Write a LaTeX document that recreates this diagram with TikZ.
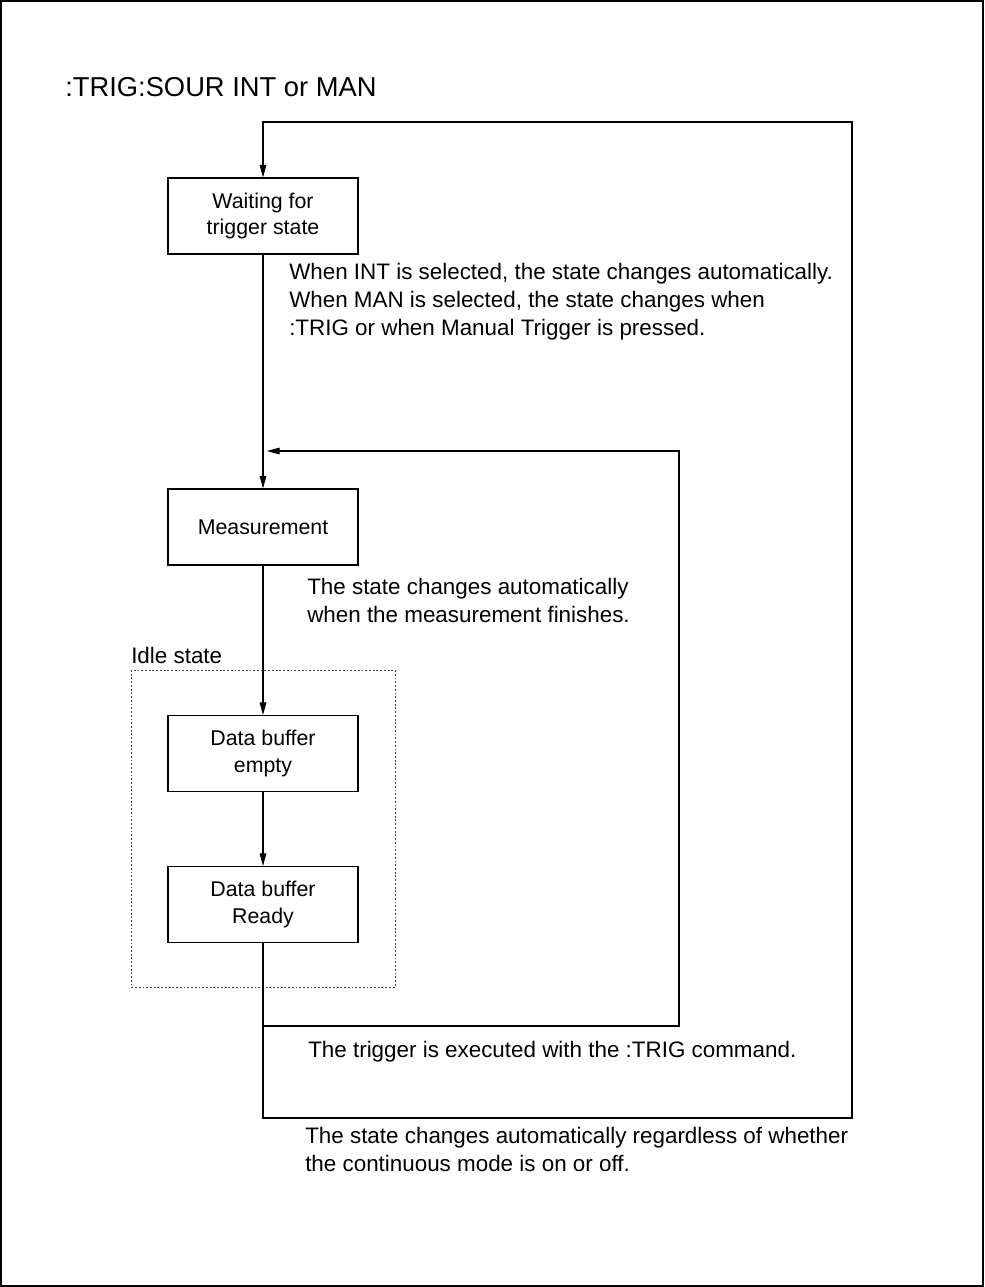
\documentclass[tikz,border=0pt]{standalone}
\usepackage{fontspec}
\setmainfont{Liberation Sans}
\usetikzlibrary{arrows.meta,positioning}

\begin{document}
\begin{tikzpicture}[x=0.75pt,y=-0.75pt,
  state/.style={draw, line width=0.8pt, minimum width=142.5pt, minimum height=57pt,
    inner sep=0pt, align=center, font=\fontsize{16}{20}\selectfont},
  note/.style={anchor=base west, inner sep=0pt, align=left, font=\fontsize{16.8}{21}\selectfont},
  flow/.style={line width=0.8pt, -{Triangle[length=9.5pt,width=5pt]}},
  link/.style={line width=0.8pt},
  idle/.style={draw=black!75, line width=0.6pt, dash pattern=on 1.4pt off 1.4pt}]
\useasboundingbox (0,0) rectangle (984,1287);
% Frame
\draw[line width=1.6pt] (1,1) rectangle (983,1286);
\node[note, font=\fontsize{20.5}{24}\selectfont] (title) at (65,97) {:TRIG:SOUR INT or MAN};
% States
\node[state] (wait) at (263,216) {Waiting for\\trigger state};
\node[state] (meas) at (263,527) {Measurement};
\node[state] (empty) at (263,753.5) {Data buffer\\empty};
\node[state] (ready) at (263,904.5) {Data buffer\\Ready};
% Idle group
\draw[idle] (131,670) rectangle (395,987);
\node[note] (idlelbl) at (131,663) {Idle state};
% Notes (base = last line)
\node[note] (n1) at (289,335) {When INT is selected, the state changes automatically.\\When MAN is selected, the state changes when\\:TRIG or when Manual Trigger is pressed.};
\node[note] (n2) at (307,622) {The state changes automatically\\when the measurement finishes.};
\node[note] (n3) at (308,1057) {The trigger is executed with the :TRIG command.};
\node[note] (n4) at (305,1171) {The state changes automatically regardless of whether\\the continuous mode is on or off.};
% Loop corners
\coordinate (join) at (263,451);
\coordinate (in1) at (679,1026);
\coordinate (in2) at (679,451);
\coordinate (out1) at (852,1118);
\coordinate (out2) at (852,122);
% Transitions
\draw[flow] (wait) -- (meas);
\draw[flow] (meas) -- (empty);
\draw[flow] (empty) -- (ready);
\draw[flow, shorten >=3pt] (ready.south) |- (in1) -- (in2) -- (join);
\draw[flow] (ready.south) |- (out1) -- (out2) -| (wait.north);
\end{tikzpicture}
\end{document}
